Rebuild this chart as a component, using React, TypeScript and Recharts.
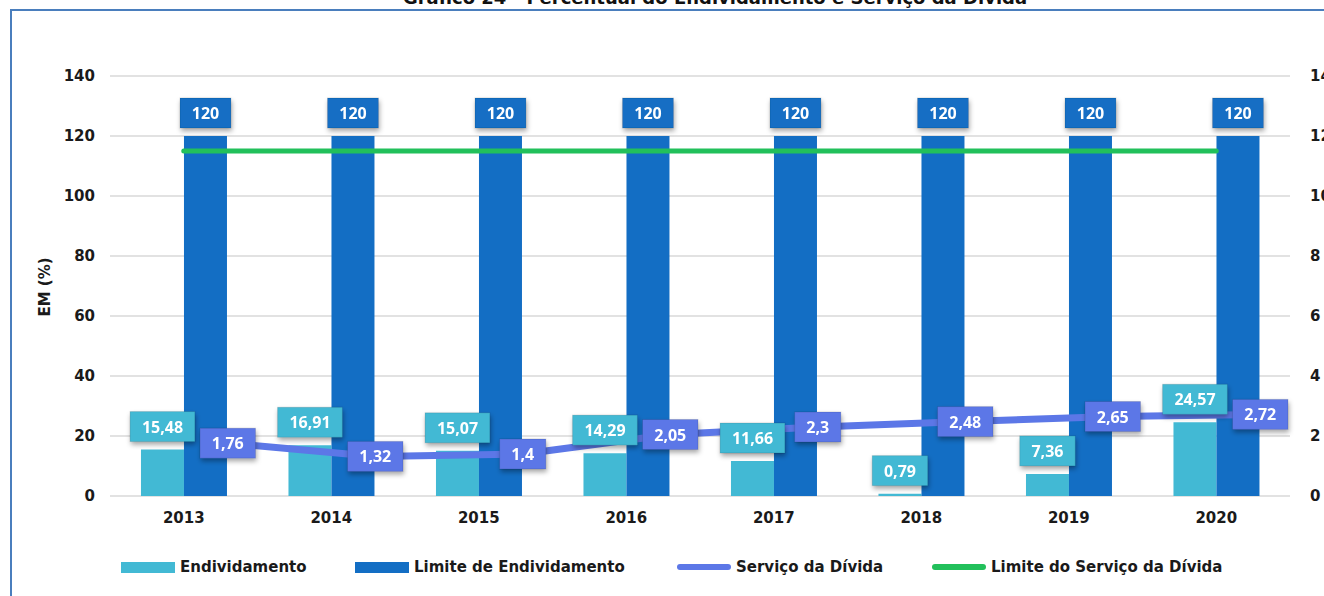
import React from "react";
import {
  Bar,
  CartesianGrid,
  ComposedChart,
  LabelList,
  Line,
  XAxis,
  YAxis,
} from "recharts";

const years = ["2013", "2014", "2015", "2016", "2017", "2018", "2019", "2020"];
const endividamento = [15.48, 16.91, 15.07, 14.29, 11.66, 0.79, 7.36, 24.57];
const limiteEndividamento = [120, 120, 120, 120, 120, 120, 120, 120];
const servicoDivida = [1.76, 1.32, 1.4, 2.05, 2.3, 2.48, 2.65, 2.72];
const limiteServico = [11.5, 11.5, 11.5, 11.5, 11.5, 11.5, 11.5, 11.5];
const leftTicks = [0, 20, 40, 60, 80, 100, 120, 140];
const rightTicks = [0, 2, 4, 6, 8, 10, 12, 14];

const data = years.map((year, i) => ({
  year,
  endividamento: endividamento[i],
  limite: limiteEndividamento[i],
  servico: servicoDivida[i],
  limiteServico: limiteServico[i],
}));

const CYAN = "#42b9d4";
const BLUE = "#136ec4";
const LINE = "#5c77e7";
const GREEN = "#22c05b";
const FONT = "'DejaVu Sans', sans-serif";

const fmt = (v: number) => String(v).replace(".", ",");

function textWidth(s: string) {
  let w = 0;
  for (const c of s) w += c === "," ? 4.6 : 9.3;
  return w;
}

function boxLabel(fill: string, mode: "top" | "center") {
  return (props: any) => {
    const { x, y, width, value } = props;
    if (value == null) return null;
    const text = fmt(Number(value));
    const w = textWidth(text) + 23;
    const h = 30;
    const cx = mode === "top" ? Number(x) + Number(width) / 2 : Number(x);
    const cy = mode === "top" ? Number(y) - 8 - h / 2 : Number(y);
    return (
      <g filter="url(#boxShadow)">
        <rect
          x={cx - w / 2}
          y={cy - h / 2}
          width={w}
          height={h}
          fill={fill}
          stroke="rgba(0,0,0,0.12)"
          strokeWidth={1}
        />
        <text
          x={cx}
          y={cy + 6}
          textAnchor="middle"
          fill="#ffffff"
          fontFamily="'Open Sans', sans-serif"
          fontWeight={700}
          fontSize={16}
        >
          {text}
        </text>
      </g>
    );
  };
}

const legendItems = [
  { label: "Endividamento", color: CYAN, kind: "rect", left: 121 },
  { label: "Limite de Endividamento", color: BLUE, kind: "rect", left: 355 },
  { label: "Serviço da Dívida", color: LINE, kind: "line", left: 677 },
  { label: "Limite do Serviço da Dívida", color: GREEN, kind: "line", left: 932 },
];

export default function App() {
  return (
    <div
      style={{
        position: "absolute",
        left: 0,
        top: 0,
        width: 1324,
        height: 596,
        overflow: "hidden",
        background: "#fff",
        fontFamily: FONT,
      }}
    >
      <div
        style={{
          position: "absolute",
          left: 0,
          width: 1430,
          top: -13,
          textAlign: "center",
          fontSize: 18,
          fontWeight: 700,
          color: "#111",
          whiteSpace: "nowrap",
        }}
      >
        Gráfico 24 - Percentual do Endividamento e Serviço da Dívida
      </div>
      <div
        style={{
          position: "absolute",
          left: 10,
          top: 9,
          width: 1400,
          height: 700,
          borderTop: "2px solid #4a7ebd",
          borderLeft: "2px solid #4a7ebd",
        }}
      />
      <div style={{ position: "absolute", left: 0, top: 0 }}>
        <ComposedChart
          width={1360}
          height={596}
          data={data}
          margin={{ top: 76, right: 10, bottom: 60, left: 50 }}
          barCategoryGap="21%"
          barGap={0}
        >
          <defs>
            <filter id="boxShadow" x="-30%" y="-30%" width="160%" height="180%">
              <feDropShadow dx="1" dy="3" stdDeviation="2.5" floodColor="#000" floodOpacity="0.35" />
            </filter>
          </defs>
          <CartesianGrid vertical={false} stroke="#d9d9d9" strokeWidth={1.5} yAxisId="left" />
          <XAxis
            dataKey="year"
            axisLine={false}
            tickLine={false}
            tickSize={0}
            tickMargin={16}
            height={40}
            tick={{ fontSize: 15, fontWeight: 700, fill: "#1a1a1a", fontFamily: FONT }}
          />
          <XAxis
            xAxisId="shift"
            dataKey="year"
            hide
            padding={{ left: 44, right: -44 }}
          />
          <YAxis
            yAxisId="left"
            domain={[0, 140]}
            ticks={leftTicks}
            axisLine={false}
            tickLine={false}
            tickSize={0}
            tickMargin={15}
            width={60}
            tick={{ fontSize: 15, fontWeight: 700, fill: "#1a1a1a", fontFamily: FONT }}
            label={{
              content: () => (
                <text
                  x={50}
                  y={287}
                  transform="rotate(-90 50 287)"
                  textAnchor="middle"
                  fontSize={15}
                  fontWeight={700}
                  fill="#1a1a1a"
                  fontFamily={FONT}
                >
                  EM (%)
                </text>
              ),
            }}
          />
          <YAxis
            yAxisId="right"
            orientation="right"
            domain={[0, 14]}
            ticks={rightTicks}
            axisLine={false}
            tickLine={false}
            tickSize={0}
            tickMargin={20}
            width={60}
            tick={{ fontSize: 15, fontWeight: 700, fill: "#1a1a1a", fontFamily: FONT, textAnchor: "start" }}
          />
          <Bar dataKey="endividamento" yAxisId="left" fill={CYAN} isAnimationActive={false}>
            <LabelList dataKey="endividamento" content={boxLabel(CYAN, "top")} />
          </Bar>
          <Bar dataKey="limite" yAxisId="left" fill={BLUE} isAnimationActive={false}>
            <LabelList dataKey="limite" content={boxLabel(BLUE, "top")} />
          </Bar>
          <Line
            dataKey="limiteServico"
            yAxisId="right"
            stroke={GREEN}
            strokeWidth={5}
            strokeLinecap="round"
            dot={false}
            activeDot={false}
            isAnimationActive={false}
          />
          <Line
            dataKey="servico"
            yAxisId="right"
            xAxisId="shift"
            stroke={LINE}
            strokeWidth={7}
            strokeLinecap="round"
            strokeLinejoin="round"
            dot={false}
            activeDot={false}
            isAnimationActive={false}
          >
            <LabelList dataKey="servico" content={boxLabel(LINE, "center")} />
          </Line>
        </ComposedChart>
      </div>
      {legendItems.map((item) => (
        <div
          key={item.label}
          style={{
            position: "absolute",
            left: item.left,
            top: 556,
            height: 22,
            display: "flex",
            alignItems: "center",
            fontSize: 15,
            fontWeight: 700,
            color: "#1a1a1a",
            whiteSpace: "nowrap",
          }}
        >
          <span
            style={{
              display: "inline-block",
              width: 54,
              height: item.kind === "rect" ? 11 : 6,
              borderRadius: item.kind === "rect" ? 0 : 3,
              background: item.color,
              marginRight: 5,
            }}
          />
          {item.label}
        </div>
      ))}
    </div>
  );
}
